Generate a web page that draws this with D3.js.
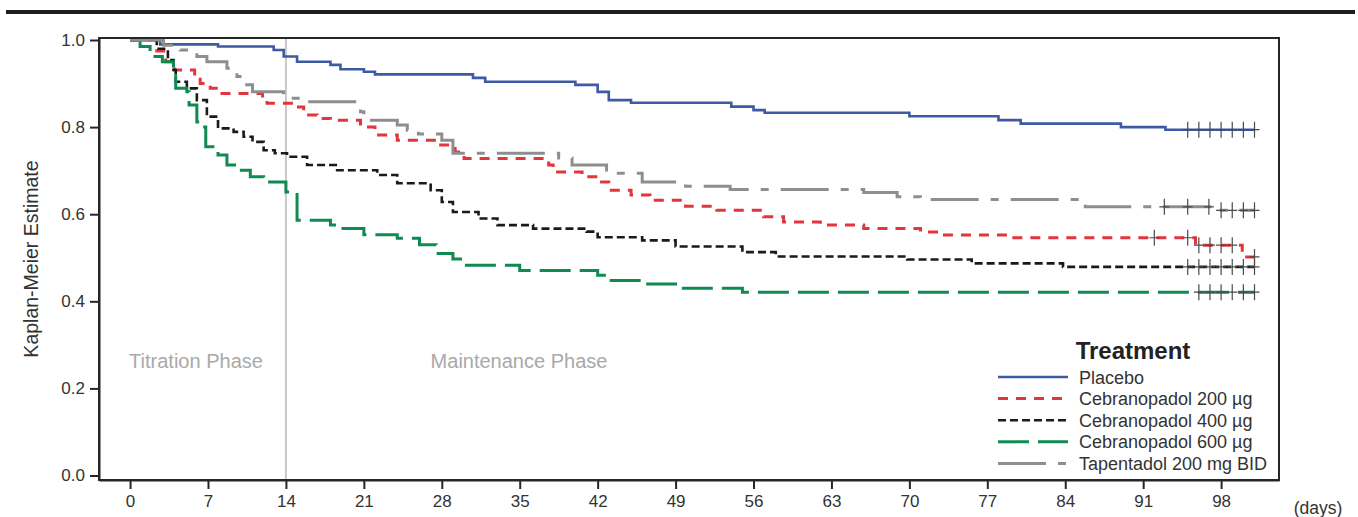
<!DOCTYPE html>
<html>
<head>
<meta charset="utf-8">
<script src="https://cdn.jsdelivr.net/npm/d3@7"></script>
<style>
    body { margin: 0; background: #fff; }
    svg { display: block; font-family: 'Liberation Sans', Arial, sans-serif; }
</style>
</head>
<body>
<svg id="chart" width="1358" height="517"></svg>
<script>
// step curves: event day -> survival estimate after that day
const placeboDays = [0, 2.7, 7.9, 12.9, 13.8, 15, 18, 18.9, 21, 22, 30.8, 31.9, 40, 42, 43, 45, 54, 56, 57, 70, 78, 80, 89, 93, 101];
const placeboKM = [1, 0.99, 0.985, 0.977, 0.962, 0.95, 0.943, 0.933, 0.927, 0.921, 0.913, 0.904, 0.897, 0.881, 0.862, 0.856, 0.847, 0.839, 0.833, 0.825, 0.816, 0.808, 0.8, 0.794, 0.794];
const placeboCensor = [95, 96, 97, 98, 99, 100, 101];

const ceb200Days = [0, 2.4, 3.2, 4, 5.8, 6.3, 7.2, 8, 11.9, 12.3, 14.7, 15.6, 16.8, 18, 20.7, 22, 24, 27.9, 29.2, 30, 37.6, 38, 40.6, 42, 43, 45, 46.7, 49.9, 52.7, 56.9, 58.7, 62, 65.9, 71, 72.8, 78.9, 95.7, 99.9, 101];
const ceb200KM = [1, 0.975, 0.95, 0.931, 0.918, 0.9, 0.889, 0.877, 0.862, 0.855, 0.846, 0.828, 0.82, 0.816, 0.8, 0.782, 0.77, 0.759, 0.743, 0.728, 0.713, 0.697, 0.686, 0.674, 0.655, 0.644, 0.632, 0.618, 0.609, 0.594, 0.582, 0.575, 0.567, 0.559, 0.552, 0.546, 0.529, 0.502, 0.502];
const ceb200Censor = [92, 95, 96, 97, 98, 99, 101];

const ceb400Days = [0, 2.4, 3.4, 3.9, 4.1, 5.1, 6, 6.9, 7.9, 9.3, 10.2, 11, 12, 13, 14.1, 15.9, 18.6, 22.2, 24, 27, 28, 29, 31.3, 33, 36.2, 41, 42, 46, 49, 55, 58, 69.8, 75.6, 83.8, 101];
const ceb400KM = [1, 0.98, 0.954, 0.931, 0.904, 0.889, 0.862, 0.824, 0.797, 0.789, 0.778, 0.766, 0.747, 0.74, 0.732, 0.713, 0.701, 0.69, 0.671, 0.655, 0.628, 0.605, 0.59, 0.575, 0.567, 0.56, 0.547, 0.54, 0.526, 0.513, 0.503, 0.496, 0.487, 0.479, 0.479];
const ceb400Censor = [95, 96, 97, 98, 99, 100, 101];

const ceb600Days = [0, 0.9, 1.8, 2.9, 3.9, 4.1, 5.1, 5.3, 6, 6.7, 6.8, 7.9, 8.7, 9.7, 10.8, 12, 14, 15, 18, 18.7, 21, 24, 26, 27.5, 29, 30, 35, 42, 43, 46, 49, 55, 101];
const ceb600KM = [1, 0.985, 0.962, 0.95, 0.923, 0.889, 0.881, 0.851, 0.812, 0.8, 0.755, 0.736, 0.713, 0.701, 0.686, 0.674, 0.651, 0.586, 0.575, 0.567, 0.553, 0.545, 0.53, 0.51, 0.497, 0.483, 0.471, 0.46, 0.448, 0.44, 0.43, 0.421, 0.421];
const ceb600Censor = [96, 97, 98, 99, 100, 101];

const tapDays = [0, 3, 4.5, 6, 6.9, 8.7, 9.6, 10.2, 11, 13.8, 15.3, 20.7, 21, 24, 24.9, 25.9, 28, 29, 38.5, 39.7, 42.8, 46, 49.9, 53.9, 65.9, 68.9, 71, 85.8, 97.6, 101];
const tapKM = [1, 0.988, 0.977, 0.962, 0.95, 0.935, 0.916, 0.897, 0.881, 0.866, 0.858, 0.835, 0.816, 0.805, 0.793, 0.784, 0.77, 0.74, 0.729, 0.713, 0.694, 0.674, 0.664, 0.657, 0.65, 0.64, 0.634, 0.617, 0.609, 0.609];
const tapCensor = [92.9, 95, 96.9, 98, 99, 100, 101];

const xTicks = [0, 7, 14, 21, 28, 35, 42, 49, 56, 63, 70, 77, 84, 91, 98];
const yTicks = [0, 0.2, 0.4, 0.6, 0.8, 1.0];

const series = [
    { name: 'Placebo', days: placeboDays, km: placeboKM, censor: placeboCensor, color: '#3d5aa3', width: 2.6, dash: null },
    { name: 'Cebranopadol 200 \u00b5g', days: ceb200Days, km: ceb200KM, censor: ceb200Censor, color: '#e3353c', width: 3, dash: '10,8' },
    { name: 'Cebranopadol 400 \u00b5g', days: ceb400Days, km: ceb400KM, censor: ceb400Censor, color: '#1a1a1a', width: 2.6, dash: '8,4' },
    { name: 'Cebranopadol 600 \u00b5g', days: ceb600Days, km: ceb600KM, censor: ceb600Censor, color: '#0f8a50', width: 3, dash: '31,9' },
    { name: 'Tapentadol 200 mg BID', days: tapDays, km: tapKM, censor: tapCensor, color: '#8e8e8e', width: 3, dash: '48,12,8,12' },
];

const svg = d3.select('#chart');
const frame = { left: 99, right: 1279, top: 38, bottom: 480 };

const x = d3.scaleLinear().domain([-2.79, 103.2]).range([frame.left, frame.right]);
const y = d3.scaleLinear().domain([-0.0103, 1.0046]).range([frame.bottom, frame.top]);

// top rule
svg.append('line')
    .attr('x1', 6).attr('x2', 1355)
    .attr('y1', 12).attr('y2', 12)
    .attr('stroke', '#1e1e1e')
    .attr('stroke-width', 4);

// phase divider
svg.append('line')
    .attr('x1', x(14)).attr('x2', x(14))
    .attr('y1', frame.top).attr('y2', frame.bottom)
    .attr('stroke', '#c8c8c8')
    .attr('stroke-width', 2);

svg.append('text')
    .attr('x', 196).attr('y', 368)
    .attr('text-anchor', 'middle')
    .attr('font-size', 20)
    .attr('fill', '#a9a9a9')
    .text('Titration Phase');
svg.append('text')
    .attr('x', 519).attr('y', 368)
    .attr('text-anchor', 'middle')
    .attr('font-size', 20)
    .attr('fill', '#a9a9a9')
    .text('Maintenance Phase');

const line = d3.line()
    .x((d) => x(d[0]))
    .y((d) => y(d[1]))
    .curve(d3.curveStepAfter);

series.forEach((s) => {
    const pts = s.days.map((d, i) => [d, s.km[i]]);
    svg.append('path')
        .datum(pts)
        .attr('d', line)
        .attr('fill', 'none')
        .attr('stroke', s.color)
        .attr('stroke-width', s.width)
        .attr('stroke-dasharray', s.dash);

    // censor marks
    const stepY = (t) => {
        let v = s.km[0];
        s.days.forEach((d, i) => { if (d <= t) { v = s.km[i]; } });
        return v;
    };
    const g = svg.append('g');
    g.selectAll('path')
        .data(s.censor)
        .enter()
        .append('path')
        .attr('d', (t) => {
            const cx = x(t);
            const cy = y(stepY(t));
            return 'M' + cx + ',' + (cy - 8) + 'V' + (cy + 8) + 'M' + (cx - 5) + ',' + cy + 'H' + (cx + 5);
        })
        .attr('stroke', '#4a4a4a')
        .attr('stroke-width', 1.2)
        .attr('fill', 'none');
});

// axes
const yAxis = svg.append('g')
    .attr('transform', 'translate(' + frame.left + ',0)')
    .call(d3.axisLeft(y).tickValues(yTicks).tickFormat(d3.format('.1f')).tickSize(9).tickSizeOuter(0).tickPadding(5));
const xAxis = svg.append('g')
    .attr('transform', 'translate(0,' + frame.bottom + ')')
    .call(d3.axisBottom(x).tickValues(xTicks).tickSize(9).tickSizeOuter(0).tickPadding(6));

[yAxis, xAxis].forEach((a) => {
    a.selectAll('path, line').attr('stroke', '#262626').attr('stroke-width', 2);
    a.selectAll('text')
        .attr('font-family', "'Liberation Sans', Arial, sans-serif")
        .attr('font-size', 17)
        .attr('fill', '#333');
});

svg.append('rect')
    .attr('x', frame.left).attr('y', frame.top)
    .attr('width', frame.right - frame.left)
    .attr('height', frame.bottom - frame.top)
    .attr('fill', 'none')
    .attr('stroke', '#262626')
    .attr('stroke-width', 2);

svg.append('text')
    .attr('x', 1318).attr('y', 514)
    .attr('text-anchor', 'middle')
    .attr('font-size', 17.5)
    .attr('fill', '#333')
    .text('(days)');

svg.append('text')
    .attr('transform', 'translate(38,' + ((frame.top + frame.bottom) / 2) + ') rotate(-90)')
    .attr('text-anchor', 'middle')
    .attr('font-size', 19.5)
    .attr('fill', '#333')
    .text('Kaplan-Meier Estimate');

// legend
const legend = svg.append('g');
legend.append('text')
    .attr('x', 1133).attr('y', 359)
    .attr('text-anchor', 'middle')
    .attr('font-size', 24)
    .attr('font-weight', 'bold')
    .attr('fill', '#222')
    .text('Treatment');

series.forEach((s, i) => {
    const ly = 377 + i * 21.6;
    legend.append('line')
        .attr('x1', 998).attr('x2', 1068)
        .attr('y1', ly).attr('y2', ly)
        .attr('stroke', s.color)
        .attr('stroke-width', s.width)
        .attr('stroke-dasharray', s.dash);
    legend.append('text')
        .attr('x', 1079).attr('y', ly + 6.5)
        .attr('font-size', 18)
        .attr('fill', '#333')
        .text(s.name);
});
</script>
</body>
</html>
